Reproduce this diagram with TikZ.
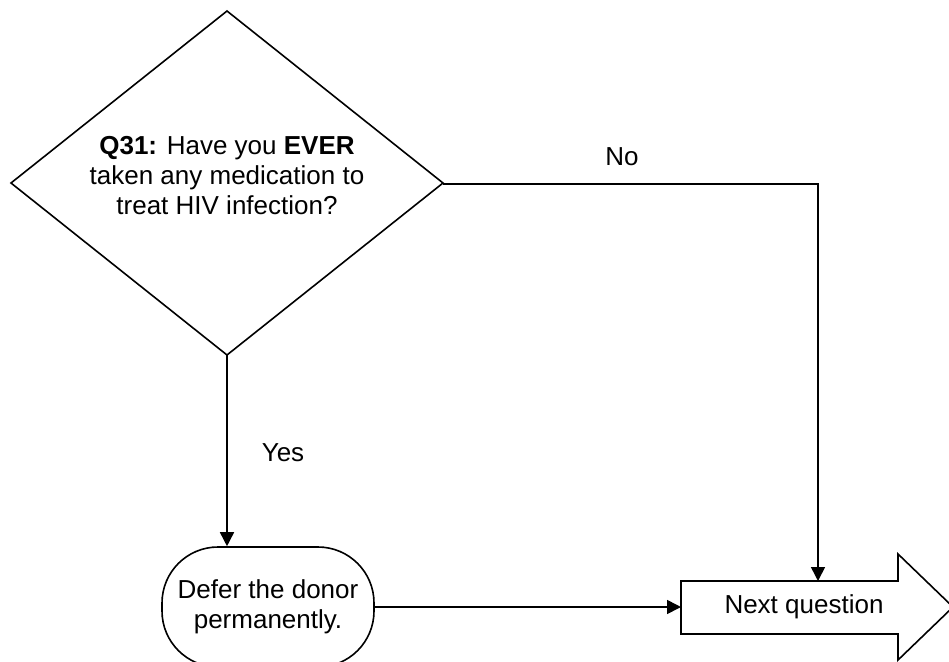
\documentclass[tikz,border=0pt]{standalone}
\usepackage{fontspec}
\setmainfont{Liberation Sans}
\usetikzlibrary{arrows.meta}
\begin{document}
\begin{tikzpicture}[x=1pt,y=-1pt,
  shape line/.style={draw=black,line width=1.6pt,line join=miter},
  conn/.style={draw=black,line width=1.6pt,-{Triangle[length=14pt,width=14pt]}},
  lbl/.style={font=\fontsize{26}{30}\selectfont,inner sep=0pt},
  txt/.style={font=\fontsize{26}{30}\selectfont,align=center,inner sep=0pt}]
\useasboundingbox (0,0) rectangle (949,661);
% diamond
\coordinate (dT) at (227,11);
\coordinate (dL) at (11,183);
\coordinate (dR) at (443,183);
\coordinate (dB) at (227,355);
\draw[shape line] (dT) -- (dR) -- (dB) -- (dL) -- cycle;
\node[txt] (q) at (227,176) {\textbf{Q31:} Have you \textbf{EVER}\\taken any medication to\\treat HIV infection?};
% defer box
\node[shape line,rounded corners=56pt,minimum width=212pt,minimum height=120pt,inner sep=0pt] (defer) at (268,607) {};
\node[txt] (defertxt) at (268,607) {Defer the donor\\permanently.};
% next question arrow
\coordinate (aL) at (681,607);
\draw[shape line] (681,581) -- (898,581) -- (898,554) -- (953,607) -- (898,660) -- (898,634) -- (681,634) -- cycle;
\node[txt] (next) at (804,607) {Next question};
\coordinate (aTop) at (818,581);
\coordinate (corner) at (818,184);
% connectors
\draw[conn] (dB) -- (defer.north -| dB);
\draw[conn] (dR |- corner) -- (corner) -- (aTop);
\draw[conn] (defer.east) -- (aL);
\node[lbl] (no) at (622,157) {No};
\node[lbl] (yes) at (283,453) {Yes};
\end{tikzpicture}
\end{document}
